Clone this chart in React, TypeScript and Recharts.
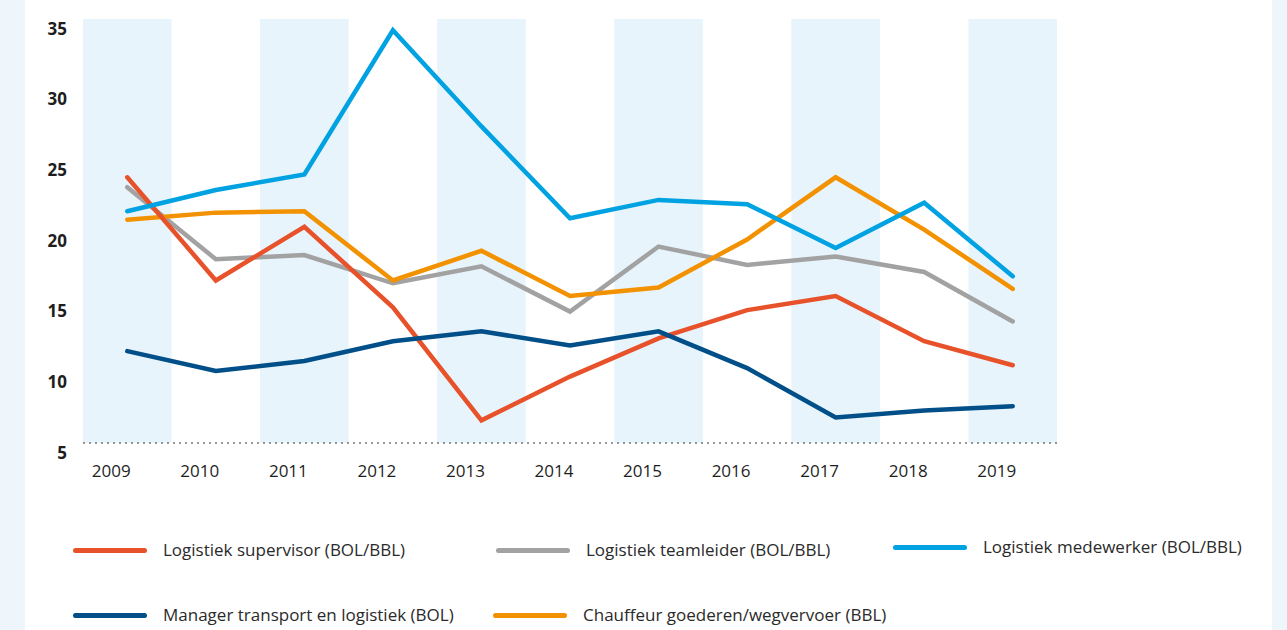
import React from 'react';
import { ComposedChart, Line, XAxis, YAxis, ReferenceArea, ReferenceLine, Legend } from 'recharts';

const years = ['2009', '2010', '2011', '2012', '2013', '2014', '2015', '2016', '2017', '2018', '2019'];
const shadedYears = ['2009', '2011', '2013', '2015', '2017', '2019'];
const yTicks = [5, 10, 15, 20, 25, 30, 35];

const supervisor = [23.8, 16.5, 20.3, 14.6, 6.6, 9.7, 12.4, 14.4, 15.4, 12.2, 10.5];
const teamleider = [23.1, 18.0, 18.3, 16.3, 17.5, 14.3, 18.9, 17.6, 18.2, 17.1, 13.6];
const medewerker = [21.4, 22.9, 24.0, 34.2, 27.4, 20.9, 22.2, 21.9, 18.8, 22.0, 16.8];
const manager = [11.5, 10.1, 10.8, 12.2, 12.9, 11.9, 12.9, 10.3, 6.8, 7.3, 7.6];
const chauffeur = [20.8, 21.3, 21.4, 16.5, 18.6, 15.4, 16.0, 19.4, 23.8, 20.1, 15.9];

const series = [
  { key: 'supervisor', name: 'Logistiek supervisor (BOL/BBL)', color: '#e8522a' },
  { key: 'teamleider', name: 'Logistiek teamleider (BOL/BBL)', color: '#a2a2a2' },
  { key: 'medewerker', name: 'Logistiek medewerker (BOL/BBL)', color: '#00a2e2' },
  { key: 'manager', name: 'Manager transport en logistiek (BOL)', color: '#004f88' },
  { key: 'chauffeur', name: 'Chauffeur goederen/wegvervoer (BBL)', color: '#f39200' },
];

// draw order (last on top)
const drawOrder = ['teamleider', 'chauffeur', 'supervisor', 'medewerker', 'manager'];

const data = years.map((year, i) => ({
  year,
  supervisor: supervisor[i],
  teamleider: teamleider[i],
  medewerker: medewerker[i],
  manager: manager[i],
  chauffeur: chauffeur[i],
}));

const font = '"Open Sans", sans-serif';

// legend item placement
const legendSpots = [
  { left: 73, top: 20 },
  { left: 496, top: 20 },
  { left: 893, top: 17 },
  { left: 73, top: 85 },
  { left: 493, top: 85 },
];

const XTick = (props: any) => {
  const { x, y, payload } = props;
  return (
    <text x={x - 16} y={y + 27} textAnchor="middle" dominantBaseline="central" fontSize={17} fill="#1e1e1e" fontFamily={font}>
      {payload.value}
    </text>
  );
};

const YTick = (props: any) => {
  const { x, y, payload } = props;
  return (
    <text x={x} y={y + 9} textAnchor="end" dominantBaseline="central" fontSize={17} fontWeight={700} fill="#1e1e1e" fontFamily={font}>
      {payload.value}
    </text>
  );
};

const LegendBox = () => (
  <div style={{ position: 'relative', width: 1287, height: 110 }}>
    {series.map((s, i) => (
      <div
        key={s.key}
        style={{ position: 'absolute', left: legendSpots[i].left, top: legendSpots[i].top, display: 'flex', alignItems: 'center', height: 20 }}
      >
        <div style={{ width: 74, height: 5, borderRadius: 3, background: s.color }} />
        <span style={{ marginLeft: 16, fontSize: 17, lineHeight: '20px', color: '#2a2a2a', fontFamily: font, whiteSpace: 'nowrap' }}>{s.name}</span>
      </div>
    ))}
  </div>
);

export default function App() {
  return (
    <div style={{ position: 'fixed', left: 0, top: 0, width: 1287, height: 630, background: '#eef6fc', overflow: 'hidden' }}>
      <div style={{ position: 'absolute', left: 25, top: 0, width: 1247, height: 630, background: '#ffffff' }} />
      <div style={{ position: 'absolute', left: 0, top: 0 }}>
        <ComposedChart width={1287} height={630} data={data} margin={{ top: 19, right: 230, bottom: 0, left: 0 }}>
          {shadedYears.map((y) => (
            <ReferenceArea key={y} x1={y} x2={y} fill="#e7f4fc" fillOpacity={1} stroke="none" ifOverflow="visible" />
          ))}
          <XAxis
            dataKey="year"
            type="category"
            scale="band"
            axisLine={false}
            tickLine={false}
            tickSize={0}
            tickMargin={0}
            height={77}
            tick={<XTick />}
            interval={0}
          />
          <YAxis
            type="number"
            domain={[5, 35]}
            ticks={yTicks}
            width={83}
            axisLine={false}
            tickLine={false}
            tickSize={0}
            tickMargin={16}
            tick={<YTick />}
            interval={0}
          />
          <ReferenceLine y={5} stroke="#333" strokeWidth={1} strokeDasharray="2 4" />
          {drawOrder.map((k) => {
            const s = series.find((x) => x.key === k)!;
            return (
              <Line
                key={k}
                type="linear"
                dataKey={k}
                name={s.name}
                stroke={s.color}
                strokeWidth={4.5}
                strokeLinecap="round"
                dot={false}
                activeDot={false}
                isAnimationActive={false}
              />
            );
          })}
          <Legend content={<LegendBox />} height={110} wrapperStyle={{ left: 0, top: 520, width: 1287, height: 110 }} />
        </ComposedChart>
      </div>
    </div>
  );
}
